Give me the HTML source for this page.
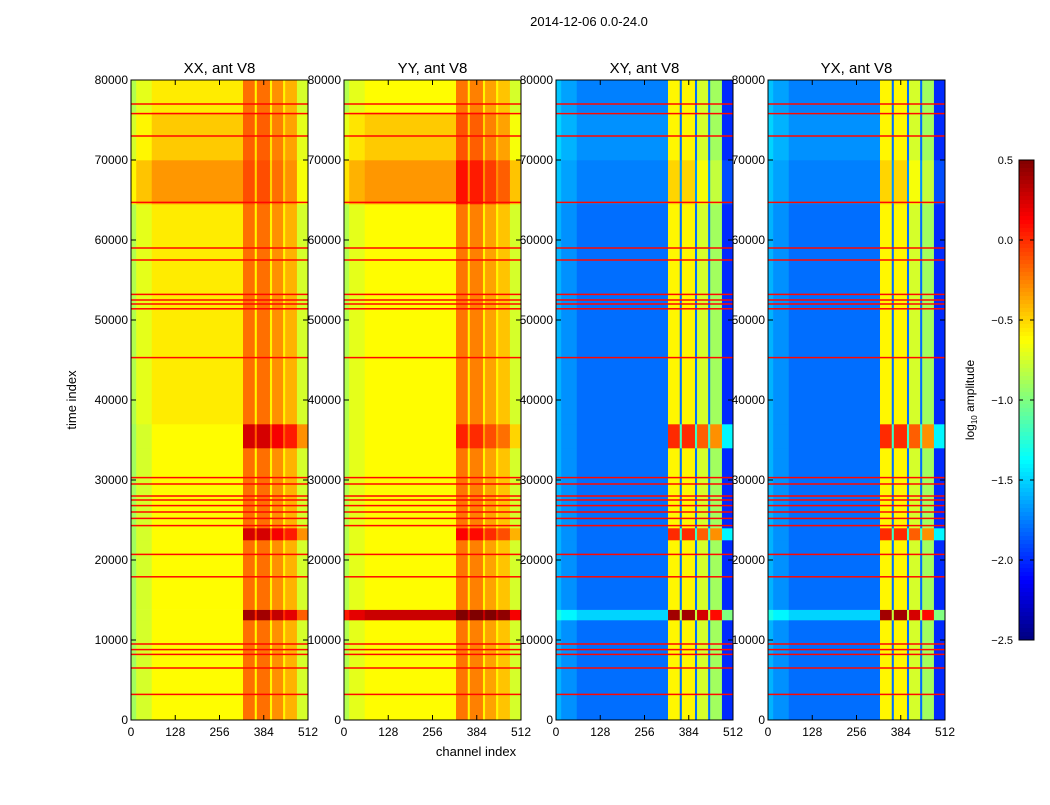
<!DOCTYPE html>
<html><head><meta charset="utf-8"><style>
body{margin:0;background:#fff;font-family:"Liberation Sans",sans-serif}
svg text{font-family:"Liberation Sans",sans-serif}
</style></head><body>
<svg id="fig" width="1050" height="800" xmlns="http://www.w3.org/2000/svg">
<rect width="1050" height="800" fill="#fff"/>
<text x="589" y="26" font-size="13" text-anchor="middle">2014-12-06 0.0-24.0</text>
<text x="76" y="400" font-size="13" text-anchor="middle" transform="rotate(-90 76 400)">time index</text>
<text x="476" y="756" font-size="13" text-anchor="middle">channel index</text>
<g id="panels"></g>
<g id="cbar"></g>
</svg>
<script>
const panelNames=["XX, ant V8","YY, ant V8","XY, ant V8","YX, ant V8"];
const panelX=[131,344,556,768];
const channelEdges=[0,15,60,324,358,364,402,408,440,446,480,512];
const baseXX=[-0.9,-0.75,-0.62,-0.2,-0.6,-0.2,-0.6,-0.3,-0.6,-0.4,-0.75];
const baseYY=[-0.85,-0.7,-0.62,-0.22,-0.6,-0.25,-0.6,-0.35,-0.6,-0.45,-0.75];
const baseXY=[-1.6,-1.7,-1.8,-0.6,-1.8,-0.6,-1.8,-0.75,-1.8,-0.9,-2.0];
const baseYX=[-1.6,-1.7,-1.8,-0.6,-1.8,-0.6,-1.8,-0.75,-1.8,-0.9,-2.0];
const timeEdges=[0,12500,13800,22500,24000,34000,37000,64500,70000,76000,80000];
const loXX=[0,0,0,0,0,0,0.05,0.3,0.15,0.05];
const hiXX=[0,0.6,0,0.45,0,0.45,0,0.1,0.05,0];
const loYY=[0,0.9,0,0,0,0,0,0.3,0.15,0];
const hiYY=[0,0.9,0,0.35,0,0.25,0,0.3,0.1,0];
const loXY=[0,0.3,0,0,0,0,0,0.05,0.1,0.05];
const hiXY=[0,1.0,0,0.6,0,0.6,0,0.1,0,0];
const loYX=[0,0.3,0,0,0,0,0,0.05,0.1,0.05];
const hiYX=[0,1.0,0,0.6,0,0.6,0,0.1,0,0];
const rfiTimes=[3200,6500,8200,8800,9500,17900,20700,24300,25200,26000,26800,27500,28000,29500,30300,45300,51400,52000,52500,53200,57500,59000,64700,73000,75800,77000];
const rfiValue=0.1;
const yTicks=[0,10000,20000,30000,40000,50000,60000,70000,80000];
const xTicks=[0,128,256,384,512];
const cbTicks=[0.5,0.0,-0.5,-1.0,-1.5,-2.0,-2.5];
const bases=[baseXX,baseYY,baseXY,baseYX],los=[loXX,loYY,loXY,loYX],his=[hiXX,hiYY,hiXY,hiYX];
const NS="http://www.w3.org/2000/svg";
const W=177,plotTop=80,H=640,vmin=-2.5,vmax=0.5;
function jet(v){let t=(v-vmin)/(vmax-vmin);t=Math.max(0,Math.min(1,t));
 const c=x=>Math.round(255*Math.max(0,Math.min(1,x)));
 const r=c(Math.min(4*t-1.5,-4*t+4.5)),g=c(Math.min(4*t-0.5,-4*t+3.5)),b=c(Math.min(4*t+0.5,-4*t+2.5));
 return `rgb(${r},${g},${b})`;}
function el(tag,at,parent){const e=document.createElementNS(NS,tag);for(const k in at)e.setAttribute(k,at[k]);parent.appendChild(e);return e;}
const panels=document.getElementById('panels');
panelNames.forEach((name,p)=>{
 const x0=panelX[p];
 const sx=c=>x0+c/512*W, sy=t=>plotTop+H-t/80000*H;
 const g=el('g',{},panels);
 
 
 for(let ti=0;ti<timeEdges.length-1;ti++){
  for(let ci=0;ci<channelEdges.length-1;ci++){
   const off=channelEdges[ci]>=324?his[p][ti]:los[p][ti];
   const r=el('rect',{x:sx(channelEdges[ci]),y:sy(timeEdges[ti+1]),width:sx(channelEdges[ci+1])-sx(channelEdges[ci])+0.3,height:sy(timeEdges[ti])-sy(timeEdges[ti+1])+0.3,fill:jet(bases[p][ci]+off)},g);
   
   
  }
 }
 rfiTimes.forEach(t=>{
  const r=el('rect',{x:x0,y:sy(t)-0.75,width:W,height:1.5,fill:jet(rfiValue)},g);
  
  
 });
 const fr=el('rect',{x:x0,y:plotTop,width:W,height:H,fill:'none',stroke:'#000','stroke-width':1},g);
 
 
 const tt=el('text',{x:x0+W/2,y:73,'font-size':15,'text-anchor':'middle'},g);tt.textContent=name;
 
 
 yTicks.forEach(v=>{const y=sy(v);
  el('line',{x1:x0,x2:x0+5,y1:y,y2:y,stroke:'#000'},g);el('line',{x1:x0+W,x2:x0+W-5,y1:y,y2:y,stroke:'#000'},g);
  const t=el('text',{x:x0-3,y:y+4,'font-size':12,'text-anchor':'end'},g);t.textContent=v;
  
  });
 xTicks.forEach(v=>{const x=sx(v);
  el('line',{x1:x,x2:x,y1:plotTop+H,y2:plotTop+H-5,stroke:'#000'},g);el('line',{x1:x,x2:x,y1:plotTop,y2:plotTop+5,stroke:'#000'},g);
  const t=el('text',{x:x,y:plotTop+H+16,'font-size':12,'text-anchor':'middle'},g);t.textContent=v;
  
  });
});
const cb=document.getElementById('cbar');


const cbx=1019,cby=160,cbw=15,cbh=480;
for(let i=0;i<120;i++){const v=vmax-(i+0.5)/120*(vmax-vmin);
 el('rect',{x:cbx,y:cby+i*cbh/120,width:cbw,height:cbh/120+0.5,fill:jet(v)},cb);}
el('rect',{x:cbx,y:cby,width:cbw,height:cbh,fill:'none',stroke:'#000'},cb);
cbTicks.forEach(v=>{const y=cby+(vmax-v)/(vmax-vmin)*cbh;
 el('line',{x1:cbx,x2:cbx+4,y1:y,y2:y,stroke:'#000'},cb);el('line',{x1:cbx+cbw,x2:cbx+cbw-4,y1:y,y2:y,stroke:'#000'},cb);
 const t=el('text',{x:cbx-6,y:y+4,'font-size':11,'text-anchor':'end'},cb);t.textContent=(v<0?'\u2212':'')+Math.abs(v).toFixed(1);
 
 });
const lab=el('text',{x:974,y:400,'font-size':12,'text-anchor':'middle',transform:'rotate(-90 974 400)'},cb);
lab.innerHTML='log<tspan font-size="8" dy="3">10</tspan><tspan dy="-3"> amplitude</tspan>';


</script>
</body></html>
